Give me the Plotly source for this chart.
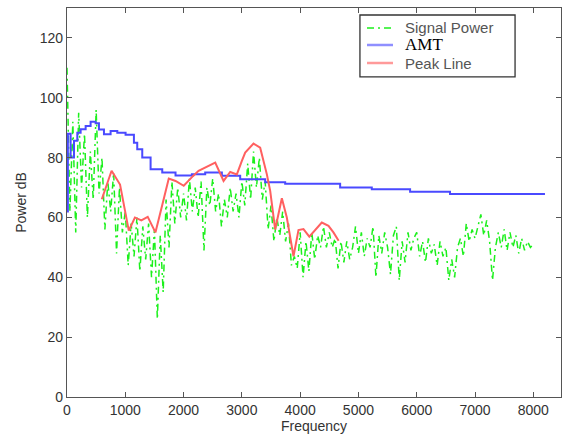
import plotly.graph_objects as go

# Signal power spectrum, sampled every 50 Hz from 0 to 8000 Hz
freq_step = 50
signal_power = [
    110, 62, 92, 55, 95, 70, 88, 60, 82, 66,
    96, 68, 80, 56, 72, 62, 75, 48, 70, 55,
    62, 44, 58, 47, 60, 42, 57, 46, 58, 40,
    56, 26, 54, 35, 66, 50, 72, 58, 70, 60,
    68, 59, 73, 62, 70, 60, 72, 49, 70, 64,
    73, 62, 68, 57, 66, 60, 70, 62, 68, 60,
    72, 64, 78, 66, 82, 70, 80, 66, 72, 56,
    64, 52, 60, 54, 62, 52, 58, 44, 47, 43,
    55, 40, 52, 42, 55, 46, 54, 50, 57, 50,
    55, 50, 53, 43, 52, 45, 52, 46, 50, 57,
    48, 55, 47, 53, 50, 57, 40, 54, 48, 55,
    50, 41, 54, 57, 39, 52, 45, 55, 49, 53,
    55, 47, 52, 45, 53, 48, 51, 44, 52, 47,
    50, 39, 46, 40, 50, 53, 47, 58, 52, 56,
    53, 57, 61, 54, 59, 52, 39, 50, 55, 50,
    56, 49, 55, 50, 54, 48, 53, 49, 52, 50,
    51,
]
signal_freq = [i * freq_step for i in range(len(signal_power))]

# AMT (step curve)
amt_freq = [0, 15, 62, 120, 177, 234, 320, 405, 491, 548, 634, 748, 863,
            1005, 1148, 1205, 1291, 1434, 1634, 1862, 2143, 2371, 2657,
            2971, 3400, 3743, 4686, 5229, 5886, 6571, 8200]
amt_db = [62, 88, 80, 85.6, 88.3, 89.5, 90.6, 92, 91.5, 89.4, 87.8, 88.9,
          88.3, 87.6, 85, 82.8, 80, 76.1, 75, 74, 74.4, 75, 73.9, 72.8,
          71.8, 71.3, 70, 69.4, 68.6, 67.8, 67.8]

# Peak line
peak_freq = [597, 765, 910, 1060, 1165, 1275, 1385, 1517, 1632, 1746, 1862,
             2003, 2160, 2257, 2543, 2686, 2800, 2914, 3000, 3057, 3200,
             3314, 3429, 3486, 3571, 3686, 3771, 3886, 3971, 4057, 4157,
             4371, 4486, 4571, 4660]
peak_db = [66.1, 75.6, 71, 55.6, 60, 59, 60.2, 55, 64, 73, 72.2,
           70.6, 73.8, 75.6, 78.3, 72.2, 75.2, 74.4, 78.9, 81.7, 84.7,
           83.3, 74.4, 68.9, 56, 66.4, 60, 47, 55.8, 56.1, 53.6,
           58.3, 57.2, 55, 52.2]

legend_names = ["Signal Power", "AMT", "Peak Line"]

GREEN = "#1cf01c"
BLUE = "#4a4aff"
RED = "#ff6060"
GREEN_DASH = "7px,4px,2px,4px"

fig = go.Figure()
fig.add_trace(go.Scatter(
    x=signal_freq, y=signal_power, mode="lines", name=legend_names[0],
    line=dict(color=GREEN, width=1.5, dash=GREEN_DASH),
))
fig.add_trace(go.Scatter(
    x=amt_freq, y=amt_db, mode="lines", name=legend_names[1],
    line=dict(color=BLUE, width=2, shape="hv"),
))
fig.add_trace(go.Scatter(
    x=peak_freq, y=peak_db, mode="lines", name=legend_names[2],
    line=dict(color=RED, width=2),
))

axis_common = dict(
    showline=True, linecolor="#555", linewidth=1.3, mirror="ticks",
    ticks="inside", ticklen=5, tickcolor="#555", showgrid=False,
    zeroline=False, automargin=False,
    tickfont=dict(family="Liberation Sans, Arial", size=14, color="#333"),
)

# Manual legend box (paper coordinates)
lx0, lx1, ly0, ly1 = 0.593, 0.907, 0.823, 0.982
row_y = [0.9486, 0.9049, 0.8586]
samp_x0, samp_x1, text_x = 0.6073, 0.6599, 0.680
shapes = [dict(type="rect", xref="paper", yref="paper", x0=lx0, x1=lx1, y0=ly0, y1=ly1,
               line=dict(color="#333", width=1.3), fillcolor="white", layer="above")]
styles = [dict(color=GREEN, width=1.5, dash=GREEN_DASH),
          dict(color="#8f8fff", width=2.5),
          dict(color="#ff9a9a", width=2.5)]
for ry, st in zip(row_y, styles):
    shapes.append(dict(type="line", xref="paper", yref="paper", x0=samp_x0, x1=samp_x1,
                       y0=ry, y1=ry, line=st, layer="above"))
fonts = [dict(family="Liberation Sans, Arial", size=15, color="#555"),
         dict(family="Liberation Serif, Times New Roman", size=17, color="#000"),
         dict(family="Liberation Sans, Arial", size=15, color="#555")]
annotations = []
for ry, name, fnt in zip(row_y, legend_names, fonts):
    annotations.append(dict(x=text_x, y=ry, xref="paper", yref="paper", text=name,
                            showarrow=False, xanchor="left", yanchor="middle", font=fnt))

fig.update_layout(
    width=563, height=436,
    margin=dict(l=67, r=2, t=8, b=39),
    paper_bgcolor="white", plot_bgcolor="white",
    showlegend=False,
    shapes=shapes, annotations=annotations,
    xaxis=dict(
        range=[0, 8475], tickvals=[0, 1000, 2000, 3000, 4000, 5000, 6000, 7000, 8000],
        title=dict(text="Frequency", font=dict(family="Liberation Sans, Arial", size=14, color="#333"), standoff=4),
        **axis_common,
    ),
    yaxis=dict(
        range=[0, 130], tickvals=[0, 20, 40, 60, 80, 100, 120],
        title=dict(text="Power dB", font=dict(family="Liberation Sans, Arial", size=14, color="#333"), standoff=9),
        **axis_common,
    ),
)

fig.write_html("out.html", config={"displayModeBar": False},
               post_script="document.body.style.margin='0';document.body.style.overflow='hidden';")
